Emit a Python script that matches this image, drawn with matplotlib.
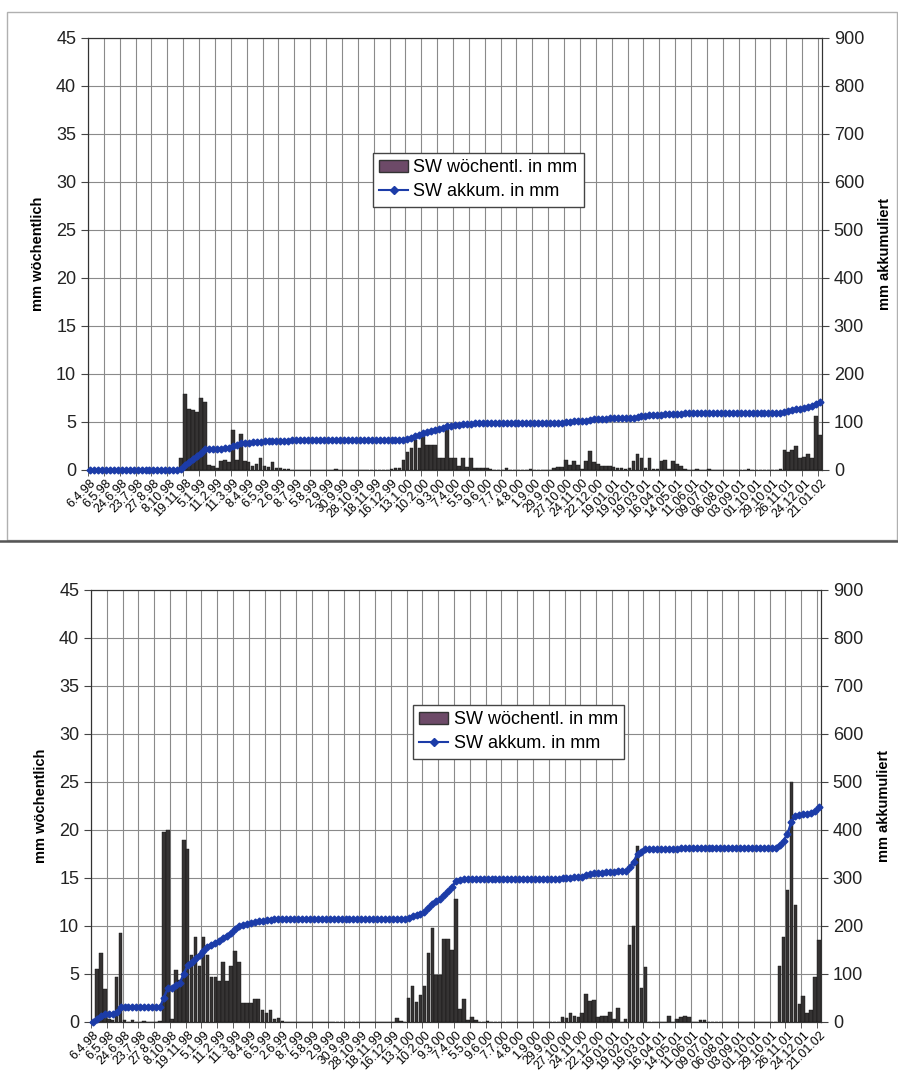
import numpy as np
import matplotlib.pyplot as plt
from matplotlib.patches import Patch, Rectangle
from matplotlib.lines import Line2D

plt.rcParams['font.family'] = ['Liberation Sans', 'DejaVu Sans']

# Datum der Messwochen (jede 4. Woche beschriftet)
datum = ['6.4.98', '6.5.98', '24.6.98', '23.7.98', '27.8.98', '8.10.98', '19.11.98',
         '5.1.99', '11.2.99', '11.3.99', '8.4.99', '6.5.99', '2.6.99', '8.7.99',
         '5.8.99', '2.9.99', '30.9.99', '28.10.99', '18.11.99', '16.12.99', '13.1.00',
         '10.2.00', '9.3.00', '7.4.00', '5.5.00', '9.6.00', '7.7.00', '4.8.00',
         '1.9.00', '29.9.00', '27.10.00', '24.11.00', '22.12.00', '19.01.01',
         '19.02.01', '19.03.01', '16.04.01', '14.05.01', '11.06.01', '09.07.01',
         '06.08.01', '03.09.01', '01.10.01', '29.10.01', '26.11.01', '24.12.01',
         '21.01.02']

# Sickerwasser wöchentlich in mm, oberes Lysimeter
sw_oben = [
    0, 0, 0, 0, 0, 0.05, 0, 0, 0, 0.05,
    0, 0, 0, 0, 0, 0, 0.05, 0, 0, 0,
    0, 0.1, 0.1, 1.2, 7.9, 6.4, 6.3, 6.0, 7.5, 7.1,
    0.5, 0.4, 0.2, 0.9, 1.0, 0.8, 4.2, 1.0, 3.7, 0.9,
    0.8, 0.4, 0.6, 1.2, 0.4, 0.3, 0.8, 0.2, 0.2, 0.1,
    0.1, 0.05, 0, 0, 0, 0, 0, 0, 0, 0,
    0, 0, 0.1, 0, 0, 0, 0, 0, 0, 0,
    0.05, 0, 0, 0, 0, 0.05, 0.1, 0.2, 0.2, 1.0,
    1.9, 2.3, 3.1, 2.3, 3.6, 2.6, 2.6, 2.6, 1.2, 1.2,
    4.5, 1.2, 1.2, 0.4, 1.3, 0.3, 1.3, 0.2, 0.2, 0.2,
    0.2, 0.1, 0, 0, 0, 0.2, 0, 0, 0, 0,
    0, 0.1, 0, 0, 0, 0, 0, 0.2, 0.3, 0.3,
    1.0, 0.5, 0.9, 0.5, 0.1, 0.9, 2.0, 0.8, 0.6, 0.4,
    0.4, 0.4, 0.3, 0.2, 0.2, 0.1, 0.2, 0.9, 1.7, 1.2,
    0.2, 1.3, 0.1, 0.1, 0.9, 1.0, 0.1, 0.9, 0.6, 0.4,
    0.1, 0.05, 0, 0.1, 0, 0, 0.1, 0, 0, 0,
    0.05, 0, 0, 0, 0, 0, 0.1, 0, 0, 0,
    0, 0, 0, 0, 0.1, 2.1, 1.9, 2.1, 2.5, 1.2,
    1.4, 1.7, 1.3, 5.6, 3.6,
]

# Sickerwasser wöchentlich in mm, unteres Lysimeter
sw_unten = [
    0, 5.5, 7.2, 3.4, 0.3, 0.2, 4.7, 9.3, 0.2, 0,
    0.2, 0, 0, 0.1, 0, 0, 0, 0.1, 19.8, 20.0,
    0.3, 5.4, 4.4, 19.0, 18.0, 7.0, 8.9, 5.8, 8.9, 7.0,
    4.7, 4.7, 4.3, 6.2, 4.3, 5.8, 7.4, 6.2, 2.0, 2.0,
    2.0, 2.4, 2.4, 1.2, 0.9, 1.2, 0.3, 0.4, 0.1, 0,
    0, 0, 0, 0, 0, 0.05, 0, 0, 0, 0,
    0, 0, 0, 0, 0, 0, 0, 0, 0, 0.05,
    0, 0, 0, 0, 0, 0, 0, 0.4, 0.1, 0,
    2.5, 3.7, 2.1, 2.8, 3.7, 7.2, 9.8, 4.9, 4.9, 8.6,
    8.6, 7.5, 12.8, 1.4, 2.4, 0.2, 0.5, 0.2, 0, 0,
    0.1, 0, 0, 0, 0, 0, 0, 0, 0, 0,
    0, 0, 0, 0, 0, 0, 0, 0, 0, 0.5,
    0.4, 0.9, 0.6, 0.5, 0.9, 2.9, 2.2, 2.3, 0.5, 0.6,
    0.6, 1.0, 0.3, 1.5, 0, 0.3, 8.0, 10.0, 18.3, 3.5,
    5.7, 0, 0, 0, 0, 0, 0.6, 0, 0.3, 0.5,
    0.6, 0.5, 0, 0, 0.2, 0.2, 0, 0, 0, 0,
    0, 0, 0, 0, 0, 0, 0, 0, 0, 0,
    0, 0, 0, 0, 5.8, 8.9, 13.7, 25.0, 12.2, 1.9,
    2.7, 0.9, 1.2, 4.7, 8.5,
]

legende = ['SW wöchentl. in mm', 'SW akkum. in mm']

balken_farbe = '#353333'
linien_farbe = '#1c3ca8'
gitter_farbe = '#8a8a8a'

fig = plt.figure(figsize=(8.98, 10.84), dpi=100)


def diagramm(rect, werte, leg_pos):
    ax = fig.add_axes(rect)
    x = np.arange(len(werte))
    akkum = np.cumsum(werte)

    ax.bar(x, werte, width=0.9, color=balken_farbe, edgecolor='#111111',
           linewidth=0.3, zorder=2)
    ax.set_xlim(-0.5, len(werte) - 0.5)
    ax.set_ylim(0, 45)
    ax.set_yticks(np.arange(0, 46, 5))
    ax.set_xticks(x[::4])
    ax.set_xticklabels(datum, rotation=45, ha='right', rotation_mode='anchor',
                       fontsize=9)
    ax.set_xticks(np.arange(-0.5, len(werte), 4), minor=True)
    ax.tick_params(axis='x', which='major', length=0, pad=5)
    ax.tick_params(axis='x', which='minor', length=4, color='#444444')
    ax.tick_params(axis='y', labelsize=13, length=5, color='#444444',
                   labelcolor='#222222')
    ax.grid(True, which='minor', axis='x', color=gitter_farbe, lw=0.8)
    ax.grid(True, which='major', axis='y', color=gitter_farbe, lw=0.8)
    ax.set_axisbelow(True)
    ax.set_ylabel('mm wöchentlich', fontsize=10.5, fontweight='bold', labelpad=8)
    for s in ax.spines.values():
        s.set_color('#333333')

    ax2 = ax.twinx()
    ax2.plot(x, akkum, color=linien_farbe, marker='D', markersize=3.5, lw=1.8,
             clip_on=False, zorder=3)
    ax2.set_ylim(0, 900)
    ax2.set_yticks(np.arange(0, 901, 100))
    ax2.tick_params(axis='y', labelsize=13, length=5, color='#444444',
                    labelcolor='#222222')
    ax2.set_ylabel('mm akkumuliert', fontsize=10.5, fontweight='bold', labelpad=10)
    for s in ax2.spines.values():
        s.set_color('#333333')

    griffe = [Patch(facecolor='#6d4a68', edgecolor='#333333'),
              Line2D([], [], color=linien_farbe, marker='D', markersize=4, lw=1.5)]
    ax2.legend(griffe, legende, loc='upper left', bbox_to_anchor=leg_pos,
               fontsize=13, frameon=True, fancybox=False, edgecolor='#444444',
               framealpha=1, borderpad=0.35, handlelength=1.6, handletextpad=0.3,
               labelspacing=0.4, borderaxespad=0)


# oben
diagramm([88 / 898, 1 - 470 / 1084, 734 / 898, 432 / 1084], sw_oben, (0.388, 0.734))
# unten
diagramm([91 / 898, 1 - 1022 / 1084, 730 / 898, 432 / 1084], sw_unten, (0.441, 0.734))

# Rahmen um das obere Diagramm und Trennlinie
fig.add_artist(Rectangle((7 / 898, 1 - 540 / 1084), 890 / 898, 528 / 1084,
                         transform=fig.transFigure, fill=False, ec='#b0b0b0', lw=1))
fig.add_artist(Line2D([0, 1], [1 - 541 / 1084, 1 - 541 / 1084],
                      transform=fig.transFigure, color='#555555', lw=1.8))

plt.savefig('out.png', dpi=100)
